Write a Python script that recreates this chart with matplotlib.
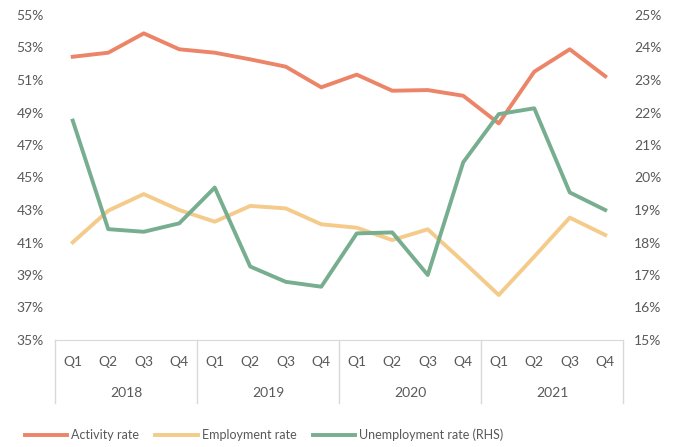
import numpy as np
import matplotlib.pyplot as plt
import matplotlib.transforms as mtransforms

plt.rcParams['font.family'] = ['Lato', 'DejaVu Sans']

# Donnees
years = ['2018', '2019', '2020', '2021']
quarters = ['Q1', 'Q2', 'Q3', 'Q4']
activity = [52.43, 52.68, 53.87, 52.89, 52.68, 52.27, 51.82, 50.55,
            51.33, 50.34, 50.38, 50.03, 48.33, 51.51, 52.89, 51.23]
employment = [41.01, 42.96, 43.98, 43.0, 42.28, 43.25, 43.1, 42.12,
              41.91, 41.15, 41.81, 39.82, 37.77, 40.13, 42.53, 41.46]
unemployment = [21.75, 18.41, 18.33, 18.59, 19.69, 17.26, 16.79, 16.64,
                18.28, 18.31, 17.0, 20.47, 21.95, 22.13, 19.54, 19.0]

c_act = '#EC8468'
c_emp = '#F4CB8B'
c_une = '#78AE90'
grey = '#595959'
line = '#D9D9D9'

fig = plt.figure(figsize=(6.81, 4.47), dpi=100)
ax = fig.add_axes([55/681, 1-340/447, 568/681, 325/447])
ax2 = ax.twinx()

x = np.arange(len(activity))
l1, = ax.plot(x, activity, color=c_act, lw=2.8)
l2, = ax.plot(x, employment, color=c_emp, lw=2.8)
l3, = ax2.plot(x, unemployment, color=c_une, lw=2.8)

ax.set_xlim(-0.5, 15.5)
ax.set_ylim(35, 55)
ax2.set_ylim(15, 25)
ax.set_yticks(np.arange(35, 56, 2))
ax.set_yticklabels(['{}%'.format(v) for v in range(35, 56, 2)])
ax2.set_yticks(np.arange(15, 26, 1))
ax2.set_yticklabels(['{}%'.format(v) for v in range(15, 26)])

for a in (ax, ax2):
    for s in a.spines.values():
        s.set_visible(False)
    a.tick_params(axis='y', length=0, labelsize=10, labelcolor=grey, pad=8)
ax.set_xticks([])
ax.spines['bottom'].set_visible(True)
ax.spines['bottom'].set_color(line)

# Axe des categories a deux niveaux
trans = mtransforms.blended_transform_factory(ax.transData, ax.transAxes)
for i in range(len(x)):
    ax.text(x[i], -0.068, quarters[i % 4], transform=trans, ha='center',
            va='center', fontsize=10, color=grey)
for j, yr in enumerate(years):
    ax.text(4*j + 1.5, -0.163, yr, transform=trans, ha='center',
            va='center', fontsize=10, color=grey)
for b in [-0.5, 3.5, 7.5, 11.5, 15.5]:
    ax.plot([b, b], [0, -0.194], transform=trans, color=line, lw=1,
            clip_on=False)

fig.legend([l1, l2, l3], ['Activity rate', 'Employment rate',
           'Unemployment rate (RHS)'], loc='center', ncol=3,
           bbox_to_anchor=(264/681, 1-435/447), frameon=False, fontsize=9,
           labelcolor=grey, handlelength=3.4, handletextpad=0.3,
           columnspacing=1.3)

fig.savefig('out.png', dpi=100)
